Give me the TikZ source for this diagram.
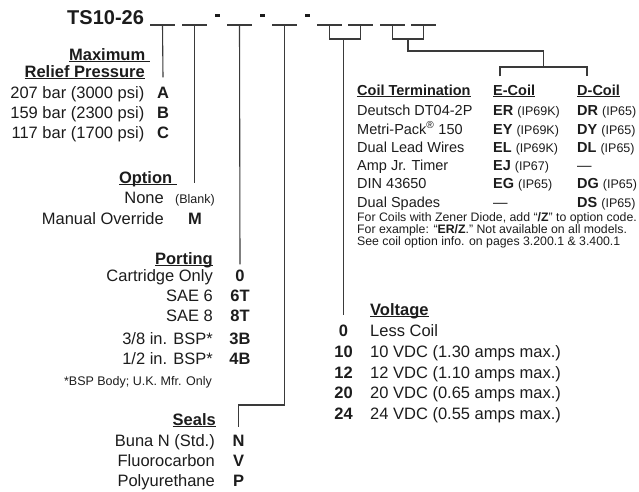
\documentclass[tikz,border=0pt]{standalone}
\usepackage{fontspec}
\setmainfont{Liberation Sans}
\usetikzlibrary{calc}
\definecolor{ink}{HTML}{1C1C1C}
\definecolor{rulegray}{HTML}{3A3A3A}
\newsavebox\ulbox
\newcommand{\ulhead}[1]{\sbox\ulbox{#1}\rlap{\rule[-2pt]{\wd\ulbox}{1.2pt}}\usebox\ulbox}
\newcommand{\ipcode}[1]{{\fontsize{12.5}{14}\selectfont(#1)}}

\begin{document}
\begin{tikzpicture}[x=1pt,y=-1pt,
  every node/.style={inner sep=0pt,text=ink},
  item/.style={anchor=base east,font=\fontsize{16.5}{18}\selectfont},
  head/.style={anchor=base east,font=\fontsize{16.5}{18}\selectfont\bfseries},
  code/.style={anchor=base,font=\fontsize{16.5}{18}\selectfont\bfseries},
  small/.style={font=\fontsize{12.5}{14}\selectfont},
  vitem/.style={anchor=base west,font=\fontsize{16.5}{18}\selectfont},
  cell/.style={anchor=base west,font=\fontsize{14.5}{16}\selectfont},
  chead/.style={anchor=base west,font=\fontsize{14.5}{16}\selectfont\bfseries},
  note/.style={anchor=base west,font=\fontsize{12.3}{14}\selectfont},
  link/.style={draw=rulegray,line width=1.1pt},
  slot/.style={draw=rulegray,line width=1.3pt}
]
\useasboundingbox (0,0) rectangle (639,491);

% model code with its blanks
\node[anchor=base west,font=\fontsize{20}{22}\selectfont\bfseries] (title) at (67,24) {TS10-26};
\foreach \n/\x in {1/162.5,2/194.5,3/239.5,4/284.5,5/329.5,6/360.5,7/392.5,8/423.5}
  \draw[slot] (\x-12.5,25) -- coordinate (s\n) (\x+12.5,25);
\foreach \n/\x in {1/217.5,2/262.5,3/307.5}
  \node (dash\n) at (\x,15.5) {\rule{5pt}{3pt}};

% relief pressure
\node[head] (maxh) at (150,60) {\ulhead{Maximum\ }};
\node[head] (relh) at (145,77) {\ulhead{Relief Pressure}};
\node[item] (p207) at (144.5,98)  {207 bar (3000 psi)};
\node[item] (p159) at (144.5,118) {159 bar (2300 psi)};
\node[item] (p117) at (144.5,138) {117 bar (1700 psi)};
\node[code] (pA) at (163,98)  {A};
\node[code] (pB) at (163,118) {B};
\node[code] (pC) at (163,138) {C};

% option
\node[head] (opth) at (177,183) {\ulhead{Option\ }};
\node[item] (onone) at (164,203) {None};
\node[item] (oman)  at (164,224) {Manual Override};
\node[anchor=base,small] (oblank) at (195,203) {(Blank)};
\node[code] (oM) at (195,224) {M};

% porting
\node[head] (porth) at (213,264) {\ulhead{Porting}};
\node[item] (pcart) at (213,281) {Cartridge Only};
\node[item] (psae6) at (213,301) {SAE 6};
\node[item] (psae8) at (213,321) {SAE 8};
\node[item] (pbsp3) at (213,344) {3/8 in. BSP*};
\node[item] (pbsp4) at (213,364) {1/2 in. BSP*};
\node[anchor=base east,small] (pnote) at (212,385) {*BSP Body; U.K. Mfr. Only};
\node[code] (pZero) at (240,281) {0};
\node[code] (p6T) at (240,301) {6T};
\node[code] (p8T) at (240,321) {8T};
\node[code] (p3B) at (240,344) {3B};
\node[code] (p4B) at (240,364) {4B};

% seals
\node[head] (sealh) at (216,425) {\ulhead{Seals}};
\node[item] (sbuna) at (215,446) {Buna N (Std.)};
\node[item] (sfluo) at (215,466) {Fluorocarbon};
\node[item] (spoly) at (215,486) {Polyurethane};
\node[code] (sN) at (238.5,446) {N};
\node[code] (sV) at (238.5,466) {V};
\node[code] (sP) at (238.5,486) {P};

% coil termination table
\node[chead] (termh) at (357,95) {\ulhead{Coil Termination}};
\node[chead] (eh) at (493,95) {\ulhead{E-Coil}};
\node[chead] (dh) at (577,95) {\ulhead{D-Coil}};
\node[cell] (t1) at (357,115)   {Deutsch DT04-2P};
\node[cell] (t2) at (357,134)   {Metri-Pack\textsuperscript{®} 150};
\node[cell] (t3) at (357,152.5) {Dual Lead Wires};
\node[cell] (t4) at (357,170.5) {Amp Jr. Timer};
\node[cell] (t5) at (357,188.5) {DIN 43650};
\node[cell] (t6) at (357,207)   {Dual Spades};
\node[cell] (e1) at (493,115)   {\textbf{ER} \ipcode{IP69K}};
\node[cell] (e2) at (493,134)   {\textbf{EY} \ipcode{IP69K}};
\node[cell] (e3) at (493,152.5) {\textbf{EL} \ipcode{IP69K}};
\node[cell] (e4) at (493,170.5) {\textbf{EJ} \ipcode{IP67}};
\node[cell] (e5) at (493,188.5) {\textbf{EG} \ipcode{IP65}};
\node[cell] (e6) at (493,207)   {---};
\node[cell] (d1) at (577,115)   {\textbf{DR} \ipcode{IP65}};
\node[cell] (d2) at (577,134)   {\textbf{DY} \ipcode{IP65}};
\node[cell] (d3) at (577,152.5) {\textbf{DL} \ipcode{IP65}};
\node[cell] (d4) at (577,170.5) {---};
\node[cell] (d5) at (577,188.5) {\textbf{DG} \ipcode{IP65}};
\node[cell] (d6) at (577,207)   {\textbf{DS} \ipcode{IP65}};
\node[note] (n1) at (357,221.5) {For Coils with Zener Diode, add “\textbf{/Z}” to option code.};
\node[note] (n2) at (357,233.5) {For example: “\textbf{ER/Z}.” Not available on all models.};
\node[note] (n3) at (357,245.5) {See coil option info. on pages 3.200.1 \& 3.400.1};

% voltage
\node[vitem,font=\fontsize{16.5}{18}\selectfont\bfseries] (volth) at (370,315) {\ulhead{Voltage}};
\node[vitem] (vless) at (370,336) {Less Coil};
\node[vitem] (v10t) at (370,357) {10 VDC (1.30 amps max.)};
\node[vitem] (v12t) at (370,378) {12 VDC (1.10 amps max.)};
\node[vitem] (v20t) at (370,398) {20 VDC (0.65 amps max.)};
\node[vitem] (v24t) at (370,419) {24 VDC (0.55 amps max.)};
\node[code] (v0)  at (343.5,336) {0};
\node[code] (v10) at (343.5,357) {10};
\node[code] (v12) at (343.5,378) {12};
\node[code] (v20) at (343.5,398) {20};
\node[code] (v24) at (343.5,419) {24};

% leaders from the blanks
\coordinate (jc) at (543.5,67);
\draw[link] (s1) -- ([yshift=9pt]pA.north);
\draw[link] (s2) -- (s2 |- opth.base);
\draw[link] (s3) -- ([yshift=5pt]pZero.north);
\draw[link] (s4) -- ++(0,380) -| ([yshift=7pt]sN.north);
\draw[link] (s5) -- ++(0,14) coordinate (b5) -| (s6);
\draw[link] (b5 -| v0) -- (v0 |- volth.base);
\draw[link] (s7) -- ++(0,14) coordinate (b7) -| (s8);
\draw[link] ($(b7)!.5!(b7 -| s8)$) -- ++(0,12) -| (jc);
\draw[link] ([xshift=7pt,yshift=8pt]eh.north west) |- (jc) -| ([xshift=10pt,yshift=8pt]dh.north west);

\end{tikzpicture}
\end{document}
